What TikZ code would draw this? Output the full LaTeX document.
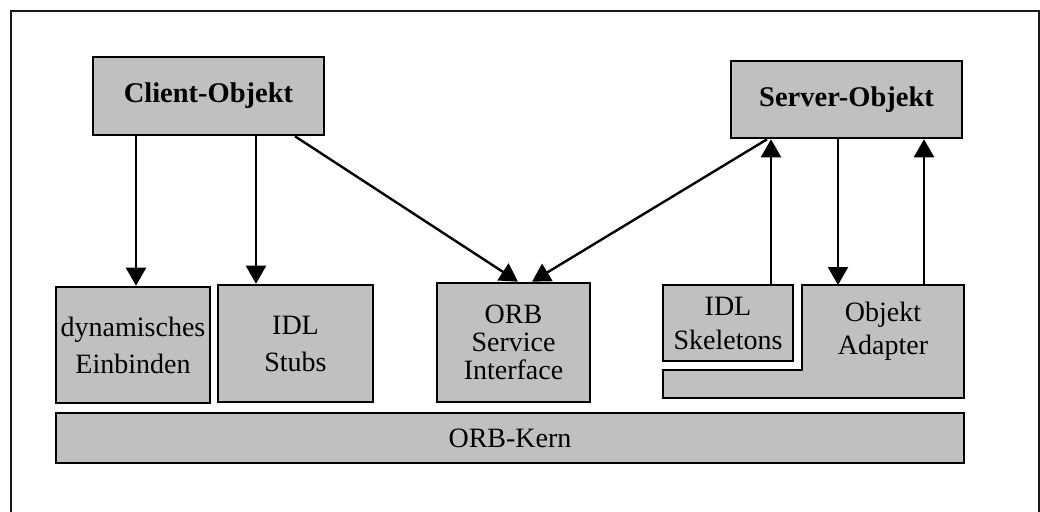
\documentclass[tikz,border=0pt]{standalone}
\usepackage{fontspec}
\setmainfont{Liberation Serif}
\usetikzlibrary{arrows.meta}
\definecolor{boxgray}{HTML}{C0C0C0}
\tikzset{
  box/.style={draw=black, fill=boxgray, line width=2.6pt, rectangle, inner sep=0pt, align=center,
              font=\fontsize{28}{37}\selectfont},
  bbox/.style={box, font=\fontsize{28.5}{34}\bfseries\selectfont},
  arr/.style={line width=2.4pt, -{Triangle[length=18pt,width=20pt]}},
  frame/.style={line width=2.4pt, draw=black!90}
}
\begin{document}
\begin{tikzpicture}[x=1pt,y=-1pt]
\useasboundingbox (0,0) rectangle (1040,511);
\clip (0,0) rectangle (1040,511);
\draw[frame] (11,11) rectangle (1039,530);

\node[bbox, minimum width=231pt, minimum height=78pt] (client) at (208.5,96) {Client-Objekt};
\node[bbox, minimum width=231pt, minimum height=77pt] (server) at (846.5,99.5) {Server-Objekt};

\node[box, minimum width=154pt, minimum height=116pt] (dyn) at (133,345) {dynamisches\\Einbinden};
\node[box, minimum width=155pt, minimum height=117pt] (stubs) at (295.5,343.5) {IDL\\Stubs};
\node[box, minimum width=153pt, minimum height=119pt, font=\fontsize{28}{28}\selectfont] (orb) at (513.5,342.5) {ORB\\Service\\Interface};
\node[box, minimum width=130pt, minimum height=76pt, font=\fontsize{28}{34}\selectfont] (skel) at (728,323) {IDL\\Skeletons};
\node[box, minimum width=908pt, minimum height=50pt] (kern) at (510,438) {ORB-Kern};

\draw[box] (802,285) -- (964,285) -- (964,398) -- (663,398) -- (663,370) -- (802,370) -- cycle;
\node[font=\fontsize{28}{33}\selectfont, align=center, inner sep=0pt] (oa) at (883,331) {Objekt\\Adapter};
\coordinate (oatop) at (883,285);

\draw[arr] ([xshift=3pt]dyn.north |- client.south) -- ([xshift=3pt]dyn.north);
\draw[arr] ([xshift=-39.5pt]stubs.north |- client.south) -- ([xshift=-39.5pt]stubs.north);
\draw[arr] ([xshift=86.5pt]client.south) -- ([xshift=4.5pt]orb.north);
\draw[arr] ([xshift=-79.5pt]server.south) -- ([xshift=18.5pt]orb.north);
\draw[arr] ([xshift=43pt]skel.north) -- ([xshift=43pt]skel.north |- server.south);
\draw[arr] ([xshift=-45pt]oatop |- server.south) -- ([xshift=-45pt]oatop);
\draw[arr] ([xshift=41pt]oatop) -- ([xshift=41pt]oatop |- server.south);
\end{tikzpicture}
\end{document}
